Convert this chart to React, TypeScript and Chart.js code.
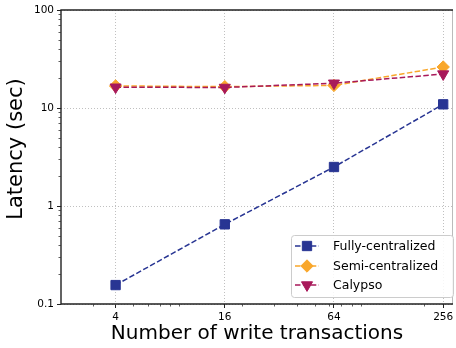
import React, { useEffect, useRef } from 'react';
import { Chart, registerables } from 'chart.js';

Chart.register(...registerables);

// Number of write transactions (x) and measured latency in seconds (y)
const transactions = [4, 16, 64, 256];
const fullyCentralized = [0.156, 0.65, 2.5, 10.9];
const semiCentralized = [16.8, 16.5, 17.0, 26.2];
const calypso = [16.3, 16.2, 17.9, 22.2];

const seriesLabels = ['Fully-centralized', 'Semi-centralized', 'Calypso'];
const seriesColors = ['#283593', '#f9a72b', '#a8195a'];

const xMajorTicks = [4, 16, 64, 256];
const xMinorTicks = [3, 5, 6, 7, 8, 9, 20, 30, 40, 50, 60, 70, 80, 90, 200];
const yMajorTicks = [0.1, 1, 10, 100];
const yTickLabels = ['0.1', '1', '10', '100'];
const yMinorTicks = [
  0.2, 0.3, 0.4, 0.5, 0.6, 0.7, 0.8, 0.9,
  2, 3, 4, 5, 6, 7, 8, 9,
  20, 30, 40, 50, 60, 70, 80, 90,
];

const xTitle = 'Number of write transactions';
const yTitle = 'Latency (sec)';

const FONT = "'DejaVu Sans', sans-serif";

function drawMarker(ctx: CanvasRenderingContext2D, style: string, x: number, y: number, r: number, color: string) {
  ctx.save();
  ctx.fillStyle = color;
  ctx.strokeStyle = color;
  ctx.lineWidth = 1;
  ctx.beginPath();
  if (style === 'rect') {
    const s = r * Math.SQRT1_2;
    ctx.rect(x - s, y - s, 2 * s, 2 * s);
  } else if (style === 'rectRot') {
    ctx.moveTo(x, y - r);
    ctx.lineTo(x + r, y);
    ctx.lineTo(x, y + r);
    ctx.lineTo(x - r, y);
    ctx.closePath();
  } else {
    const h = r * Math.sin(Math.PI / 3);
    ctx.moveTo(x, y + r);
    ctx.lineTo(x - h, y - r / 2);
    ctx.lineTo(x + h, y - r / 2);
    ctx.closePath();
  }
  ctx.fill();
  ctx.stroke();
  ctx.restore();
}

// Short minor tick marks on both log axes
const minorTicksPlugin = {
  id: 'minorTicks',
  afterDraw(chart: any) {
    const { ctx, chartArea, scales } = chart;
    ctx.save();
    ctx.strokeStyle = '#333';
    ctx.lineWidth = 0.8;
    ctx.beginPath();
    for (const v of xMinorTicks) {
      const px = Math.round(scales.x.getPixelForValue(v)) + 0.5;
      if (px < chartArea.left || px > chartArea.right) continue;
      ctx.moveTo(px, chartArea.bottom);
      ctx.lineTo(px, chartArea.bottom + 2.5);
    }
    for (const v of yMinorTicks) {
      const py = Math.round(scales.y.getPixelForValue(v)) + 0.5;
      ctx.moveTo(chartArea.left, py);
      ctx.lineTo(chartArea.left - 2.5, py);
    }
    ctx.stroke();
    ctx.restore();
  },
};

// Axes frame drawn above the data lines
const framePlugin = {
  id: 'frame',
  afterDatasetsDraw(chart: any) {
    const { ctx, chartArea } = chart;
    const { left, right, top, bottom } = chartArea;
    ctx.save();
    ctx.strokeStyle = '#bbbbbb';
    ctx.lineWidth = 1;
    ctx.beginPath();
    ctx.moveTo(right - 0.5, top);
    ctx.lineTo(right - 0.5, bottom);
    ctx.stroke();
    ctx.strokeStyle = '#222';
    ctx.lineWidth = 1.4;
    ctx.beginPath();
    ctx.moveTo(right, top);
    ctx.lineTo(left, top);
    ctx.lineTo(left, bottom);
    ctx.lineTo(right, bottom);
    ctx.stroke();
    ctx.restore();
  },
};

// Vertical axis title
const yTitlePlugin = {
  id: 'yTitle',
  afterDraw(chart: any) {
    const { ctx } = chart;
    ctx.save();
    ctx.translate(17, 149);
    ctx.rotate(-Math.PI / 2);
    ctx.fillStyle = '#000';
    ctx.font = `21px ${FONT}`;
    ctx.textAlign = 'center';
    ctx.textBaseline = 'middle';
    ctx.fillText(yTitle, 0, 0);
    ctx.restore();
  },
};

// Framed legend in the lower right corner with line + marker handles
const legendPlugin = {
  id: 'boxLegend',
  afterDraw(chart: any) {
    const { ctx, chartArea } = chart;
    const w = 162;
    const h = 62;
    const x0 = chartArea.right - w;
    const y0 = chartArea.bottom - 7 - h;
    ctx.save();
    ctx.beginPath();
    ctx.roundRect(x0 + 0.5, y0 + 0.5, w, h, 3);
    ctx.fillStyle = 'rgba(255,255,255,0.85)';
    ctx.fill();
    ctx.strokeStyle = '#cccccc';
    ctx.lineWidth = 1;
    ctx.stroke();
    const rows = [11, 31, 50];
    chart.data.datasets.forEach((ds: any, i: number) => {
      const y = y0 + rows[i];
      ctx.save();
      ctx.strokeStyle = ds.borderColor;
      ctx.lineWidth = ds.borderWidth;
      ctx.setLineDash(ds.borderDash);
      ctx.beginPath();
      ctx.moveTo(x0 + 4, y);
      ctx.lineTo(x0 + 28, y);
      ctx.stroke();
      ctx.restore();
      drawMarker(ctx, ds.pointStyle, x0 + 16, y, ds.pointRadius, ds.backgroundColor);
      ctx.fillStyle = '#000';
      ctx.font = `12.5px ${FONT}`;
      ctx.textBaseline = 'middle';
      ctx.textAlign = 'left';
      ctx.fillText(ds.label, x0 + 42, y + 1);
    });
    ctx.restore();
  },
};

function makeSeries(label: string, values: number[], color: string, pointStyle: string, radius: number, rotation: number, order: number) {
  return {
    label,
    data: transactions.map((x, i) => ({ x, y: values[i] })),
    borderColor: color,
    backgroundColor: color,
    borderWidth: 1.5,
    borderDash: [5.5, 2.4],
    pointStyle,
    pointRadius: radius,
    pointRotation: rotation,
    pointBorderWidth: 1,
    pointBorderColor: color,
    pointBackgroundColor: color,
    tension: 0,
    fill: false,
    order,
    clip: false,
  };
}

export default function App() {
  const canvasRef = useRef<HTMLCanvasElement>(null);

  useEffect(() => {
    document.body.style.margin = '0';
    const canvas = canvasRef.current;
    if (!canvas) return;
    Chart.defaults.font.family = FONT;
    Chart.defaults.color = '#000';

    const chart = new Chart(canvas, {
      type: 'line',
      data: {
        datasets: [
          makeSeries(seriesLabels[0], fullyCentralized, seriesColors[0], 'rect', 6.6, 0, 2),
          makeSeries(seriesLabels[1], semiCentralized, seriesColors[1], 'rectRot', 6.2, 0, 1),
          makeSeries(seriesLabels[2], calypso, seriesColors[2], 'triangle', 6.4, 180, 0),
        ] as any,
      },
      options: {
        animation: false,
        responsive: false,
        devicePixelRatio: 1,
        layout: { autoPadding: false, padding: { top: 10, right: 3, left: 0, bottom: 0 } },
        plugins: { legend: { display: false }, tooltip: { enabled: false } },
        scales: {
          x: {
            type: 'logarithmic',
            min: 2,
            max: 290,
            bounds: 'data',
            afterBuildTicks: (scale: any) => {
              scale.ticks = xMajorTicks.map((v) => ({ value: v }));
            },
            afterFit: (scale: any) => {
              scale.height = 44;
              scale.paddingLeft = 0;
              scale.paddingRight = 0;
            },
            ticks: {
              autoSkip: false,
              maxRotation: 0,
              padding: 3,
              font: { size: 10.5, family: FONT },
              color: '#000',
              callback: (v: any) => String(v),
            },
            grid: {
              color: '#b0b0b0',
              lineWidth: 0.8,
              drawTicks: true,
              tickLength: 4,
              tickColor: '#222',
              tickWidth: 1,
            },
            border: { display: false, dash: [1, 2] },
            title: {
              display: true,
              text: xTitle,
              font: { size: 20, family: FONT },
              color: '#000',
              padding: { top: 0, bottom: 2 },
            },
          },
          y: {
            type: 'logarithmic',
            min: 0.1,
            max: 100,
            bounds: 'data',
            afterBuildTicks: (scale: any) => {
              scale.ticks = yMajorTicks.map((v) => ({ value: v }));
            },
            afterFit: (scale: any) => {
              scale.width = 61;
              scale.paddingTop = 0;
              scale.paddingBottom = 0;
            },
            ticks: {
              autoSkip: false,
              padding: 3,
              font: { size: 10.5, family: FONT },
              color: '#000',
              callback: (_v: any, i: number) => yTickLabels[i],
            },
            grid: {
              color: '#b0b0b0',
              lineWidth: 0.8,
              drawTicks: true,
              tickLength: 4,
              tickColor: '#222',
              tickWidth: 1,
            },
            border: { display: false, dash: [1, 2] },
            title: { display: false },
          },
        },
      },
      plugins: [framePlugin, minorTicksPlugin, legendPlugin, yTitlePlugin],
    });

    return () => chart.destroy();
  }, []);

  return (
    <div style={{ width: 456, height: 348 }}>
      <canvas ref={canvasRef} width={456} height={348} />
    </div>
  );
}
